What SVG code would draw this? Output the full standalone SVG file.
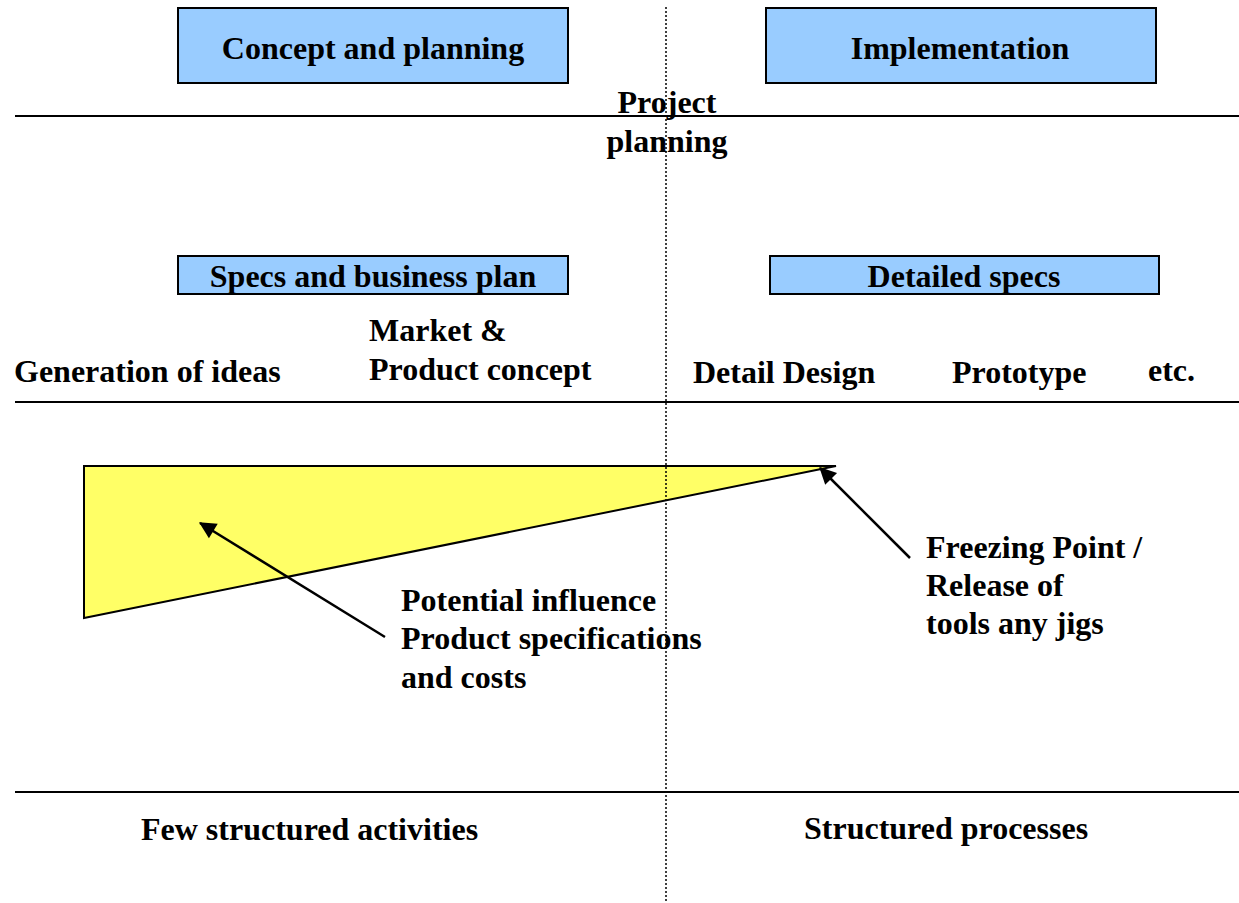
<svg xmlns="http://www.w3.org/2000/svg" width="1239" height="903" viewBox="0 0 1239 903">
<style>
text{font-family:"Liberation Serif","Times New Roman",serif;font-weight:bold;font-size:32px;fill:#000}
.c{text-anchor:middle}
.box{fill:#99ccff;stroke:#000;stroke-width:2}
.rule{stroke:#000;stroke-width:2}
.arr{stroke:#000;stroke-width:2.5;fill:none;marker-end:url(#ah)}
</style>
<defs>
<marker id="ah" viewBox="0 0 10 10" refX="9" refY="5" markerWidth="7" markerHeight="7" orient="auto" markerUnits="userSpaceOnUse" overflow="visible">
<path d="M0,0 L10,5 L0,10 z" fill="#000" transform="scale(2.4) translate(-5.5 -2.8)"/>
</marker>
</defs>
<rect width="1239" height="903" fill="#fff"/>
<g id="lines">
<line class="rule" x1="15" y1="116" x2="1239" y2="116"/>
<line class="rule" x1="15" y1="402" x2="1239" y2="402"/>
<line class="rule" x1="15" y1="792" x2="1239" y2="792"/>
</g>
<g id="triangle">
<polygon points="84,466 836,466 84,618" fill="#ffff66" stroke="#000" stroke-width="2"/>
</g>
<g id="divider">
<line x1="666" y1="7" x2="666" y2="903" stroke="#000" stroke-width="1.5" stroke-dasharray="2,2"/>
</g>
<g id="concept">
<rect class="box" x="178" y="8" width="390" height="75"/>
<text class="c" x="373" y="59">Concept and planning</text>
</g>
<g id="implementation">
<rect class="box" x="766" y="8" width="390" height="75"/>
<text class="c" x="960" y="59">Implementation</text>
</g>
<g id="project-planning">
<text class="c" x="667" y="113">Project</text>
<text class="c" x="667" y="152">planning</text>
</g>
<g id="specs">
<rect class="box" x="178" y="256" width="390" height="38"/>
<text class="c" x="373" y="287">Specs and business plan</text>
</g>
<g id="detailed-specs">
<rect class="box" x="770" y="256" width="389" height="38"/>
<text class="c" x="964" y="287">Detailed specs</text>
</g>
<g id="phases">
<text x="14" y="382">Generation of ideas</text>
<text x="369" y="341">Market &amp;</text>
<text x="369" y="380">Product concept</text>
<text x="693" y="383">Detail Design</text>
<text x="952" y="383">Prototype</text>
<text x="1148" y="381">etc.</text>
</g>
<g id="connectors">
<line class="arr" x1="385" y1="637" x2="200" y2="523"/>
<line class="arr" x1="910" y1="558" x2="820" y2="468"/>
</g>
<g id="potential">
<text x="401" y="611">Potential influence</text>
<text x="401" y="649">Product specifications</text>
<text x="401" y="688">and costs</text>
</g>
<g id="freezing">
<text x="926" y="558">Freezing Point /</text>
<text x="926" y="596">Release of</text>
<text x="926" y="634">tools any jigs</text>
</g>
<g id="bottom">
<text x="141" y="840">Few structured activities</text>
<text x="804" y="839">Structured processes</text>
</g>
</svg>
